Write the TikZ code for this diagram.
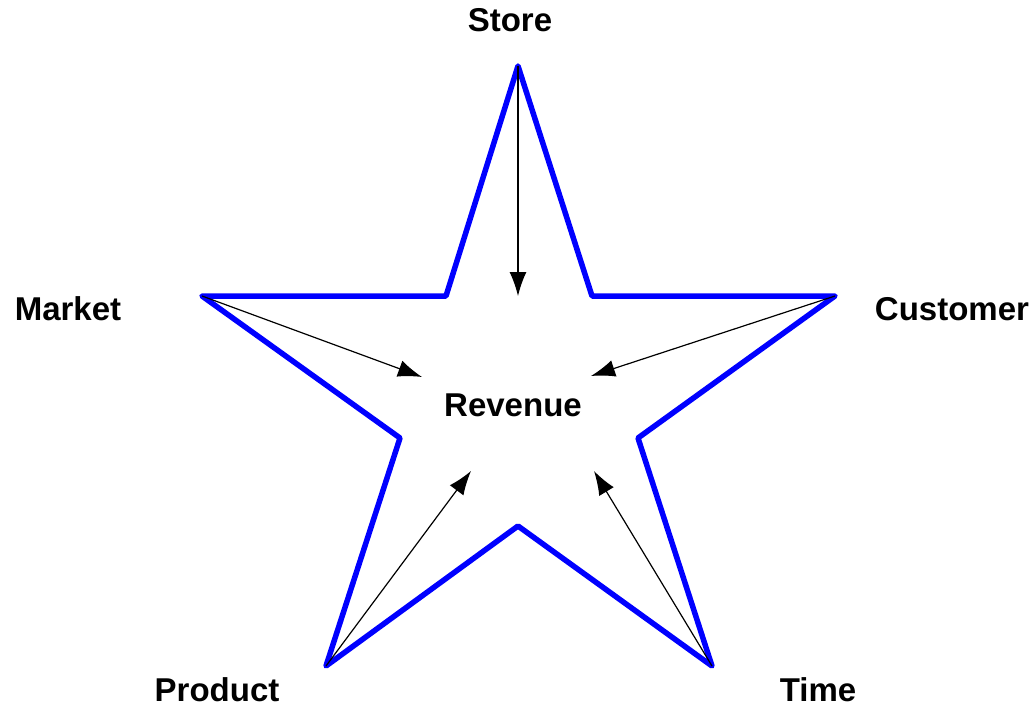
\documentclass[tikz,border=0pt]{standalone}
\usepackage{fontspec}
\setmainfont{Liberation Sans}
\usetikzlibrary{arrows.meta}

\tikzset{
    starline/.style={blue,line width=5.5pt,line join=round},
    dimarrow/.style={-{Latex[length=24pt,width=17pt]},black,line width=1.2pt},
    dimlabel/.style={font=\fontsize{33}{38}\selectfont\bfseries,inner sep=0pt}
}

\begin{document}
\begin{tikzpicture}[x=1pt,y=-1pt]
        \useasboundingbox (0,0) rectangle (1034,709);
        % tips and inner corners of the star
        \coordinate (store) at (518,66);
        \coordinate (customer) at (835,296);
        \coordinate (time) at (712,666);
        \coordinate (product) at (326,666);
        \coordinate (market) at (202,296);
        \draw[starline] (store) -- (592,296) -- (customer) -- (638,438) -- (time)
            -- (518,526) -- (product) -- (400,438) -- (market) -- (446,296) -- cycle;
        % arrow heads ends
        \coordinate (storeEnd) at (518,296);
        \coordinate (marketEnd) at (422,377);
        \coordinate (customerEnd) at (591,376);
        \coordinate (productEnd) at (471,471);
        \coordinate (timeEnd) at (594,471);
        \foreach \d in {store,market,customer,product,time}{
            \draw[dimarrow] (\d) -- (\d End);
        }
        \node[dimlabel] (storeLbl) at (510,20) {Store};
        \node[dimlabel] (marketLbl) at (68,309) {Market};
        \node[dimlabel] (customerLbl) at (952,309) {Customer};
        \node[dimlabel] (revenueLbl) at (513,405) {Revenue};
        \node[dimlabel] (productLbl) at (217,690) {Product};
        \node[dimlabel] (timeLbl) at (818,690) {Time};
    \end{tikzpicture}
\end{document}
